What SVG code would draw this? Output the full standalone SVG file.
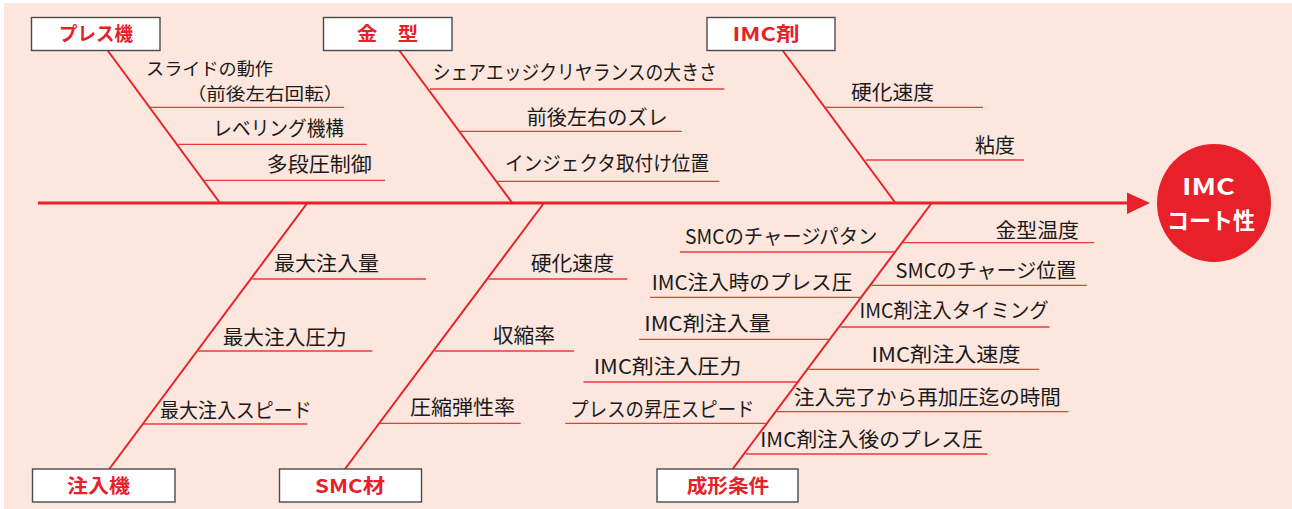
<svg xmlns="http://www.w3.org/2000/svg" width="1292" height="509" viewBox="0 0 1292 509">
<style>
.box{fill:#ffffff;stroke:#4a4a4a;stroke-width:1.4}
.cat{font-family:"Noto Sans CJK JP","Noto Sans",sans-serif;font-weight:bold;font-size:19px;fill:#e8202a;text-anchor:middle}
.lbl{font-family:"Noto Sans CJK JP","Noto Sans",sans-serif;font-size:20px;fill:#1a1a1a}
.ul{stroke:#e83a3a;stroke-width:1.3;fill:none}
.bone{stroke:#e8202a;stroke-width:2;fill:none}
.spine{stroke:#e8202a;stroke-width:3;fill:none}
.eff{font-family:"Noto Sans CJK JP","Noto Sans",sans-serif;font-weight:bold;font-size:23px;fill:#ffffff;text-anchor:middle}
</style>
<rect x="4" y="3" width="1288" height="506" fill="#fde6dd"/>

<g id="connectors">
  <line class="spine" x1="38" y1="203" x2="1128" y2="203"/>
  <polygon points="1127,192.5 1150,203 1127,214" fill="#e8202a"/>
  <line class="bone" x1="107.3" y1="50" x2="220" y2="203"/>
  <line class="bone" x1="399" y1="50" x2="512.3" y2="203"/>
  <line class="bone" x1="782.3" y1="50" x2="895.5" y2="203"/>
  <line class="bone" x1="307.3" y1="203" x2="109.3" y2="469"/>
  <line class="bone" x1="544" y1="203" x2="345" y2="469"/>
  <line class="bone" x1="931.7" y1="203" x2="732.7" y2="469"/>
</g>

<g id="cat-press">
  <rect class="box" x="31.5" y="17.5" width="128.5" height="33"/>
  <text class="cat" x="96" y="41" textLength="74" lengthAdjust="spacingAndGlyphs">プレス機</text>
</g>
<g id="cat-mold">
  <rect class="box" x="323.5" y="17.5" width="128.5" height="33"/>
  <text class="cat" x="387.5" y="41" textLength="61" lengthAdjust="spacingAndGlyphs">金　型</text>
</g>
<g id="cat-imc">
  <rect class="box" x="707" y="17.5" width="128" height="33"/>
  <text class="cat" x="766" y="41" textLength="67" lengthAdjust="spacingAndGlyphs">IMC剤</text>
</g>
<g id="cat-injector">
  <rect class="box" x="32.5" y="469" width="142.5" height="33"/>
  <text class="cat" x="98.4" y="492.5" textLength="63" lengthAdjust="spacingAndGlyphs">注入機</text>
</g>
<g id="cat-smc">
  <rect class="box" x="279.5" y="469" width="142" height="33"/>
  <text class="cat" x="350" y="492.5" textLength="70" lengthAdjust="spacingAndGlyphs">SMC材</text>
</g>
<g id="cat-cond">
  <rect class="box" x="657" y="469" width="141" height="33"/>
  <text class="cat" x="728" y="492.5" textLength="82.6" lengthAdjust="spacingAndGlyphs">成形条件</text>
</g>

<g id="effect">
  <ellipse cx="1214" cy="203" rx="57" ry="59" fill="#e8202a"/>
  <text class="eff" x="1208.5" y="195" textLength="53" lengthAdjust="spacingAndGlyphs">IMC</text>
  <text class="eff" x="1211" y="229" textLength="88" lengthAdjust="spacingAndGlyphs">コート性</text>
</g>

<!-- プレス機 causes -->
<g id="c-slide">
  <text class="lbl" style="font-size:17.5px"><tspan x="146" y="74.5" textLength="127" lengthAdjust="spacingAndGlyphs">スライドの動作</tspan><tspan x="186.7" y="100" textLength="156.6" lengthAdjust="spacingAndGlyphs">（前後左右回転）</tspan></text>
  <line class="ul" x1="150" y1="107.3" x2="344" y2="107.3"/>
</g>
<g id="c-level">
  <text class="lbl" x="213.3" y="136" textLength="130.7" lengthAdjust="spacingAndGlyphs">レベリング機構</text>
  <line class="ul" x1="178.3" y1="144.3" x2="366.7" y2="144.3"/>
</g>
<g id="c-multi">
  <text class="lbl" x="266.7" y="172" textLength="105" lengthAdjust="spacingAndGlyphs">多段圧制御</text>
  <line class="ul" x1="204" y1="180.3" x2="385" y2="180.3"/>
</g>

<!-- 金型 causes -->
<g id="c-shear">
  <text class="lbl" x="432.7" y="80" textLength="284" lengthAdjust="spacingAndGlyphs">シェアエッジクリヤランスの大きさ</text>
  <line class="ul" x1="430" y1="89" x2="724.3" y2="89"/>
</g>
<g id="c-shift">
  <text class="lbl" x="526.7" y="124.5" textLength="141" lengthAdjust="spacingAndGlyphs">前後左右のズレ</text>
  <line class="ul" x1="460" y1="131.3" x2="681.7" y2="131.3"/>
</g>
<g id="c-injpos">
  <text class="lbl" x="505" y="171" textLength="204" lengthAdjust="spacingAndGlyphs">インジェクタ取付け位置</text>
  <line class="ul" x1="496.7" y1="181.3" x2="719.3" y2="181.3"/>
</g>

<!-- IMC剤 causes -->
<g id="c-imc-cure">
  <text class="lbl" x="851" y="100" textLength="83" lengthAdjust="spacingAndGlyphs">硬化速度</text>
  <line class="ul" x1="824.6" y1="107.3" x2="983" y2="107.3"/>
</g>
<g id="c-visc">
  <text class="lbl" x="975" y="153" textLength="40" lengthAdjust="spacingAndGlyphs">粘度</text>
  <line class="ul" x1="866" y1="160" x2="1024" y2="160"/>
</g>

<!-- 注入機 causes -->
<g id="c-maxvol">
  <text class="lbl" x="274" y="271" textLength="105" lengthAdjust="spacingAndGlyphs">最大注入量</text>
  <line class="ul" x1="252.3" y1="279" x2="426" y2="279"/>
</g>
<g id="c-maxpress">
  <text class="lbl" x="222.7" y="345" textLength="124" lengthAdjust="spacingAndGlyphs">最大注入圧力</text>
  <line class="ul" x1="198.3" y1="351" x2="372.3" y2="351"/>
</g>
<g id="c-maxspeed">
  <text class="lbl" x="160" y="418" textLength="151.7" lengthAdjust="spacingAndGlyphs">最大注入スピード</text>
  <line class="ul" x1="143.3" y1="424" x2="307.3" y2="424"/>
</g>

<!-- SMC材 causes -->
<g id="c-smc-cure">
  <text class="lbl" x="530.7" y="271" textLength="83.3" lengthAdjust="spacingAndGlyphs">硬化速度</text>
  <line class="ul" x1="488.3" y1="279" x2="627.3" y2="279"/>
</g>
<g id="c-shrink">
  <text class="lbl" x="492.7" y="343" textLength="62.3" lengthAdjust="spacingAndGlyphs">収縮率</text>
  <line class="ul" x1="435" y1="351" x2="574" y2="351"/>
</g>
<g id="c-elastic">
  <text class="lbl" x="410" y="415" textLength="105" lengthAdjust="spacingAndGlyphs">圧縮弾性率</text>
  <line class="ul" x1="380" y1="423.3" x2="520.7" y2="423.3"/>
</g>

<!-- 成形条件 causes (left) -->
<g id="c-charge-pat">
  <text class="lbl" x="685" y="244" textLength="192.3" lengthAdjust="spacingAndGlyphs">SMCのチャージパタン</text>
  <line class="ul" x1="680" y1="252" x2="895" y2="252"/>
</g>
<g id="c-press-inj">
  <text class="lbl" x="651.7" y="289.5" textLength="200.6" lengthAdjust="spacingAndGlyphs">IMC注入時のプレス圧</text>
  <line class="ul" x1="650" y1="297.3" x2="860" y2="297.3"/>
</g>
<g id="c-imc-vol">
  <text class="lbl" x="644.3" y="331" textLength="126.4" lengthAdjust="spacingAndGlyphs">IMC剤注入量</text>
  <line class="ul" x1="639.2" y1="339.3" x2="830" y2="339.3"/>
</g>
<g id="c-imc-press">
  <text class="lbl" x="593.7" y="374" textLength="147.7" lengthAdjust="spacingAndGlyphs">IMC剤注入圧力</text>
  <line class="ul" x1="583.4" y1="382" x2="799.2" y2="382"/>
</g>
<g id="c-press-speed">
  <text class="lbl" x="570.3" y="417" textLength="184.2" lengthAdjust="spacingAndGlyphs">プレスの昇圧スピード</text>
  <line class="ul" x1="565.2" y1="423.3" x2="766.5" y2="423.3"/>
</g>

<!-- 成形条件 causes (right) -->
<g id="c-moldtemp">
  <text class="lbl" x="995.5" y="238" textLength="83.5" lengthAdjust="spacingAndGlyphs">金型温度</text>
  <line class="ul" x1="903" y1="242.7" x2="1094.2" y2="242.7"/>
</g>
<g id="c-charge-pos">
  <text class="lbl" x="895.6" y="278" textLength="180.7" lengthAdjust="spacingAndGlyphs">SMCのチャージ位置</text>
  <line class="ul" x1="871.5" y1="285.3" x2="1086.7" y2="285.3"/>
</g>
<g id="c-timing">
  <text class="lbl" x="859.5" y="318" textLength="189.3" lengthAdjust="spacingAndGlyphs">IMC剤注入タイミング</text>
  <line class="ul" x1="840.5" y1="327" x2="1049.5" y2="327"/>
</g>
<g id="c-imc-speed">
  <text class="lbl" x="871.5" y="362" textLength="149.1" lengthAdjust="spacingAndGlyphs">IMC剤注入速度</text>
  <line class="ul" x1="808.5" y1="369.3" x2="1039.2" y2="369.3"/>
</g>
<g id="c-time">
  <text class="lbl" x="794" y="405" textLength="266.9" lengthAdjust="spacingAndGlyphs">注入完了から再加圧迄の時間</text>
  <line class="ul" x1="776.9" y1="411.7" x2="1068.4" y2="411.7"/>
</g>
<g id="c-press-after">
  <text class="lbl" x="760.3" y="447" textLength="222.4" lengthAdjust="spacingAndGlyphs">IMC剤注入後のプレス圧</text>
  <line class="ul" x1="745.9" y1="454" x2="987.5" y2="454"/>
</g>
</svg>
